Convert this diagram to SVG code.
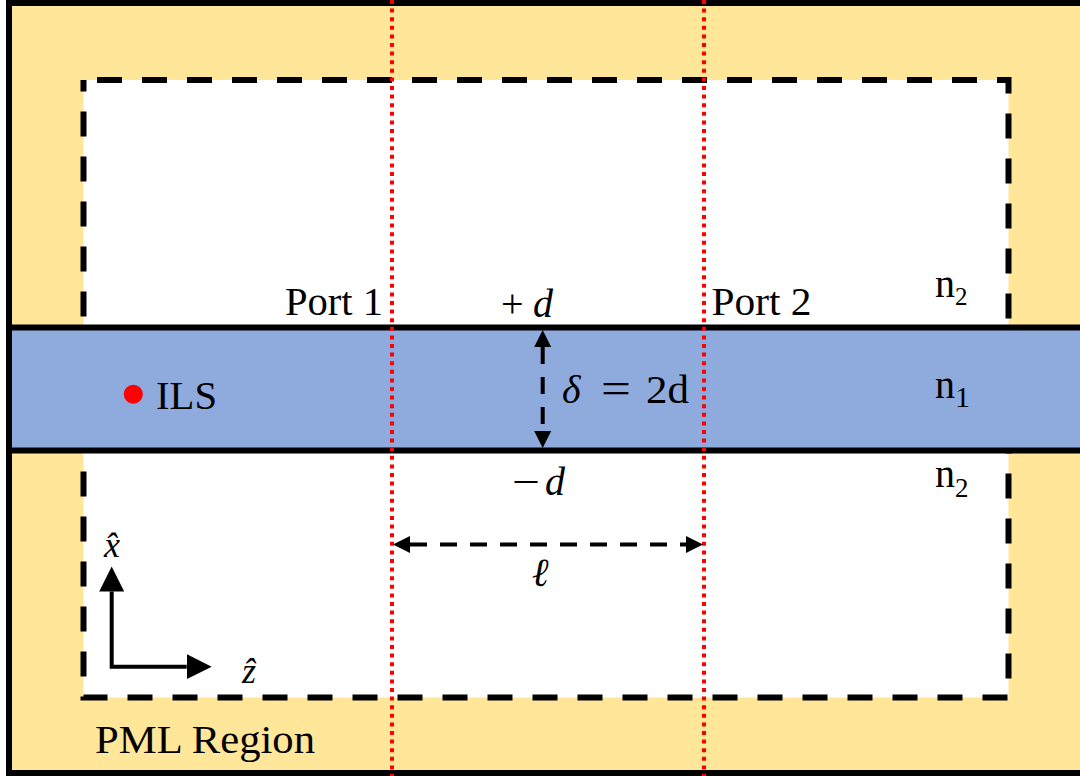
<svg xmlns="http://www.w3.org/2000/svg" width="1080" height="776" viewBox="0 0 1080 776">
<style>
.t{font-family:"Liberation Serif","DejaVu Serif",serif;font-size:40px;fill:#000}
.m{font-family:"Liberation Serif","DejaVu Serif",serif;font-style:italic;font-size:40px;fill:#000}
.port{stroke:#FF0000;stroke-width:4;stroke-dasharray:4 4.6;fill:none}
.dim{stroke:#000;stroke-width:4;stroke-dasharray:17 13;fill:none}
</style>
<defs>
<marker id="ah" markerUnits="userSpaceOnUse" viewBox="0 -9 18 18" refX="0" refY="0" markerWidth="18" markerHeight="18" orient="auto-start-reverse">
<path d="M0,-8.5 L17,0 L0,8.5 Z" fill="#000"/>
</marker>
<marker id="axh" markerUnits="userSpaceOnUse" viewBox="0 -13 26 26" refX="0" refY="0" markerWidth="26" markerHeight="26" orient="auto-start-reverse">
<path d="M0,-12.5 L25,0 L0,12.5 Z" fill="#000"/>
</marker>
</defs>

<g id="pml">
<rect x="9" y="3" width="1100" height="770" fill="#FFE699" stroke="#000" stroke-width="6"/>
</g>
<g id="domain">
<rect x="83.5" y="80" width="925" height="617.5" fill="#FFFFFF" stroke="#000" stroke-width="6" stroke-dasharray="25 20" stroke-dashoffset="31.5"/>
</g>
<g id="waveguide">
<rect x="9" y="327.5" width="1100" height="123" fill="#8FAADC" stroke="#000" stroke-width="6"/>
</g>

<g id="ils">
<circle cx="133.3" cy="394.3" r="9.5" fill="#FF0000"/>
<text class="t" x="156" y="409" textLength="61" lengthAdjust="spacingAndGlyphs">ILS</text>
</g>

<g id="labels">
<text class="t" x="285" y="315" textLength="98" lengthAdjust="spacingAndGlyphs">Port 1</text>
<text class="t" x="711.5" y="315" textLength="100" lengthAdjust="spacingAndGlyphs">Port 2</text>
<text class="t" x="501" y="317">+</text>
<text class="m" x="533" y="317">d</text>
<text class="t" x="512" y="495" textLength="28" lengthAdjust="spacingAndGlyphs">−</text>
<text class="m" x="545" y="495">d</text>
<text class="m" x="562" y="403">δ</text>
<text class="t" x="601" y="403" style="font-size:44px" textLength="30" lengthAdjust="spacingAndGlyphs">=</text>
<text class="t" x="646" y="403" textLength="43" lengthAdjust="spacingAndGlyphs">2d</text>
<text class="t" x="935" y="297">n<tspan dy="8" style="font-size:25px">2</tspan></text>
<text class="t" x="935" y="398">n<tspan dy="9" style="font-size:30px">1</tspan></text>
<text class="t" x="935" y="487">n<tspan dy="10" style="font-size:27px">2</tspan></text>
<text class="m" x="540" y="586" text-anchor="middle">ℓ</text>
<text class="t" x="95" y="753" style="font-size:41px" textLength="220" lengthAdjust="spacingAndGlyphs">PML Region</text>
</g>

<g id="axes">
<polyline points="111.7,591.5 111.7,666.7 186.7,666.7" fill="none" stroke="#000" stroke-width="4" marker-start="url(#axh)" marker-end="url(#axh)"/>
<text class="m" x="112" y="557" text-anchor="middle" style="font-size:36px">x̂</text>
<text class="m" x="249" y="683" text-anchor="middle" style="font-size:36px">ẑ</text>
</g>

<g id="connectors">
<line class="port" x1="392" y1="0" x2="392" y2="776"/>
<line class="port" x1="704" y1="0" x2="704" y2="776"/>
<line class="dim" x1="542.7" y1="347" x2="542.7" y2="431" marker-start="url(#ah)" marker-end="url(#ah)"/>
<line class="dim" x1="410" y1="544.5" x2="686" y2="544.5" marker-start="url(#ah)" marker-end="url(#ah)"/>
</g>
</svg>
